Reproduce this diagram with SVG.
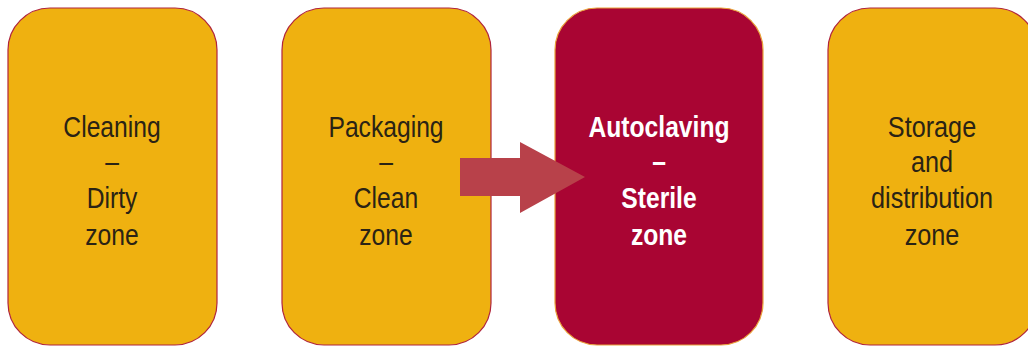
<svg xmlns="http://www.w3.org/2000/svg" width="1028" height="348" viewBox="0 0 1028 348">
  <style>
    .zone { fill: #EFB110; stroke: #B0243C; stroke-width: 1.2; }
    .zone-hot { fill: #A90533; stroke: #E9A23A; stroke-width: 1.2; }
    .label { font-family: "Liberation Sans Narrow", "Liberation Sans", Arial, sans-serif; font-size: 29px; text-anchor: middle; fill: #2A2315; }
    .label-hot { font-family: "Liberation Sans Narrow", "Liberation Sans", Arial, sans-serif; font-size: 29px; font-weight: bold; text-anchor: middle; fill: #FFFFFF; }
  </style>
  <rect width="1028" height="348" fill="#FFFFFF"/>

  <!-- labels are condensed horizontally around each box centre -->
  <g id="cleaning">
    <rect class="zone" x="8" y="8" width="209" height="337" rx="42" ry="42"/>
    <g class="label" transform="translate(112,0) scale(0.85,1)">
      <text x="0" y="137">Cleaning</text>
      <text x="0" y="172">–</text>
      <text x="0" y="208">Dirty</text>
      <text x="0" y="245">zone</text>
    </g>
  </g>

  <g id="packaging">
    <rect class="zone" x="282" y="8" width="209" height="337" rx="42" ry="42"/>
    <g class="label" transform="translate(386,0) scale(0.85,1)">
      <text x="0" y="137">Packaging</text>
      <text x="0" y="172">–</text>
      <text x="0" y="208">Clean</text>
      <text x="0" y="245">zone</text>
    </g>
  </g>

  <g id="autoclaving">
    <rect class="zone-hot" x="555" y="8" width="208" height="337" rx="42" ry="42"/>
    <g class="label-hot" transform="translate(659,0) scale(0.85,1)">
      <text x="0" y="137">Autoclaving</text>
      <text x="0" y="172">–</text>
      <text x="0" y="208">Sterile</text>
      <text x="0" y="245">zone</text>
    </g>
  </g>

  <g id="storage">
    <rect class="zone" x="828" y="8" width="209" height="337" rx="42" ry="42"/>
    <g class="label" transform="translate(932,0) scale(0.87,1)">
      <text x="0" y="137">Storage</text>
      <text x="0" y="172">and</text>
      <text x="0" y="208">distribution</text>
      <text x="0" y="245">zone</text>
    </g>
  </g>

  <g id="connectors">
    <polygon points="460,158 520,158 520,142 585,177 520,213 520,196 460,196" fill="#B8414A"/>
  </g>
</svg>
